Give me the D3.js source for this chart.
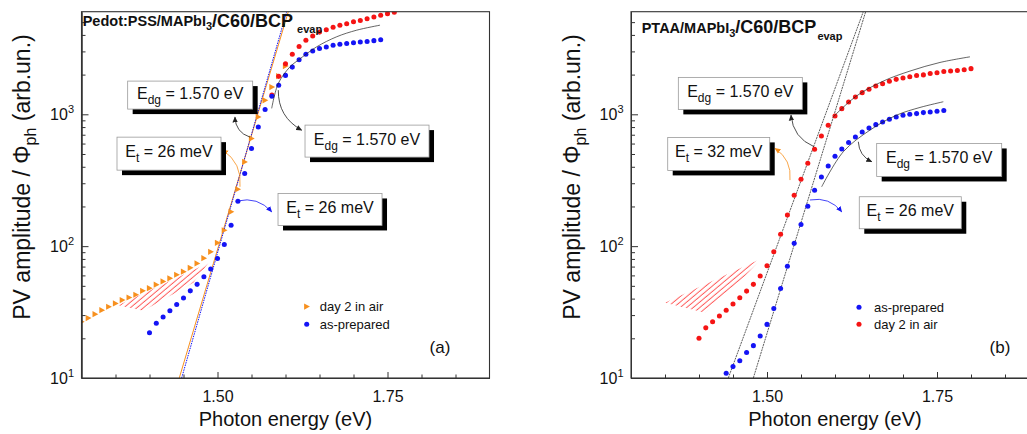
<!DOCTYPE html>
<html>
<head>
<meta charset="utf-8">
<script src="https://cdn.jsdelivr.net/npm/d3@7"></script>
<style>
  body { margin: 0; background: #fff; }
  text { font-family: Arial, "Liberation Sans", sans-serif; }
</style>
</head>
<body>
<svg id="chart" width="1027" height="434"></svg>
<script>
// ---- panel (a): Pedot:PSS/MAPbI3/C60/BCP ----
const dayAirTriA = [[1.30,26.7],[1.31,28.5],[1.32,30.5],[1.33,32.7],[1.34,34.7],[1.35,36.8],[1.36,39],[1.37,40.8],
  [1.38,42.8],[1.39,45.8],[1.40,48],[1.41,51],[1.42,54],[1.43,57],[1.44,60.7],[1.45,64],[1.46,68.5],[1.47,74],
  [1.48,81],[1.49,90.6],[1.50,106],[1.51,132],[1.52,182],[1.53,270],[1.54,435],[1.55,655],[1.56,955],[1.57,1276],
  [1.58,1610],[1.59,1950],[1.60,2323]];
const dayAirDotA = [[1.58,1400],[1.59,1940],[1.60,2420],[1.61,2850],[1.62,3270],[1.63,3640],[1.64,3920],[1.65,4200],
  [1.66,4380],[1.67,4580],[1.68,4740],[1.69,4860],[1.70,5040],[1.71,5150],[1.72,5310],[1.73,5470],[1.74,5630],
  [1.75,5800],[1.76,5950]];
const asPrepA = [[1.40,22],[1.41,26],[1.42,29],[1.43,32.4],[1.44,36.1],[1.45,40.5],[1.46,45.8],[1.47,51.3],[1.48,58.6],
  [1.49,67],[1.50,80.7],[1.51,103],[1.52,144],[1.53,219],[1.54,356],[1.55,550],[1.56,802],[1.57,1086],[1.58,1370],
  [1.59,1660],[1.60,1973],[1.61,2280],[1.62,2594],[1.63,2850],[1.64,3020],[1.65,3150],[1.66,3240],[1.67,3335],
  [1.68,3400],[1.69,3440],[1.70,3490],[1.71,3530],[1.72,3570],[1.73,3620],[1.74,3680]];
const fitOrangeA = [[1.4438,10],[1.6041,6000]];
const fitBlueA = [[1.4473,10],[1.6017,6000]];
const fitCurveA = [[1.5797,1109],[1.5894,1714],[1.6066,2291],[1.6188,2576],[1.6459,3250],[1.6753,3873],
  [1.7047,4345],[1.739,4742]];
const hatchA = [[1.3541,35.7],[1.4865,74.6],[1.4644,52.7],[1.3909,32.4]];

// ---- panel (b): PTAA/MAPbI3/C60/BCP ----
const dayAirB = [[1.40,20],[1.41,24],[1.42,26.7],[1.43,29.5],[1.44,32.7],[1.45,36.4],[1.46,40.6],[1.47,45.6],
  [1.48,51.3],[1.49,59.3],[1.50,71],[1.51,90.6],[1.52,123],[1.53,172],[1.54,243],[1.55,322],[1.56,426],[1.57,543],
  [1.58,685],[1.59,826],[1.60,970],[1.61,1104],[1.62,1240],[1.63,1352],[1.64,1460],[1.65,1547],[1.66,1638],
  [1.67,1706],[1.68,1778],[1.69,1841],[1.70,1884],[1.71,1925],[1.72,1970],[1.73,1990],[1.74,2040],[1.75,2065],
  [1.76,2110],[1.77,2130],[1.78,2150],[1.79,2180],[1.80,2220]];
const asPrepB = [[1.44,10.85],[1.45,12.2],[1.46,13.5],[1.47,15.6],[1.48,17.6],[1.49,20.8],[1.50,25.5],[1.51,33.7],
  [1.52,47.8],[1.53,70.5],[1.54,105],[1.55,146],[1.56,201],[1.57,265],[1.58,335],[1.59,406],[1.60,481],[1.61,546],
  [1.62,611],[1.63,673],[1.64,735],[1.65,788],[1.66,835],[1.67,874],[1.68,917],[1.69,955],[1.70,983],[1.71,1000],
  [1.72,1012],[1.73,1030],[1.74,1042],[1.75,1054],[1.76,1067]];
const fitLineRedB = [[1.4431,10],[1.6416,6000]];
const fitLineBlueB = [[1.4799,10],[1.6451,6000]];
const fitCurveRedB = [[1.5966,948],[1.6319,1380],[1.671,1786],[1.7103,2128],[1.7544,2473],[1.7985,2729]];
const fitCurveBlueB = [[1.5804,282],[1.6122,520],[1.6515,759],[1.6907,986],[1.725,1127],[1.7593,1245]];
const hatchB = [[1.35,37.2],[1.4922,80.7],[1.4676,59.3],[1.4088,31.3]];

// ---- axes ----
const xDomain = [1.3, 1.9];
const yDomain = [10, 6000];
const xMajor = [1.50, 1.75];
const xMinor = [1.35, 1.40, 1.45, 1.55, 1.60, 1.65, 1.70, 1.80, 1.85];
const yMajor = [10, 100, 1000];
const yMinor = [20, 30, 40, 50, 60, 70, 80, 90, 200, 300, 400, 500, 600, 700, 800, 900, 2000, 3000, 4000, 5000];

const ORANGE = "#f7901e", BLUE = "#1414f5", RED = "#f51414", INK = "#222";

const svg = d3.select("#chart");
const W = 408, H = 366.3, TOP = 11.7;

const defs = svg.append("defs");
defs.append("pattern")
  .attr("id", "hatch")
  .attr("patternUnits", "userSpaceOnUse")
  .attr("width", 8).attr("height", 4.2)
  .attr("patternTransform", "rotate(-40)")
  .append("line")
  .attr("x1", 0).attr("x2", 8).attr("y1", 2).attr("y2", 2)
  .attr("stroke", "#ff4a4a").attr("stroke-width", 0.9);

[INK, ORANGE, BLUE].forEach((c, i) => {
  defs.append("marker")
    .attr("id", "arr" + i)
    .attr("viewBox", "0 0 10 10")
    .attr("refX", 9).attr("refY", 5)
    .attr("markerWidth", 6).attr("markerHeight", 6)
    .attr("markerUnits", "userSpaceOnUse")
    .attr("orient", "auto")
    .append("path").attr("d", "M0,0.5 L10,5 L0,9.5 Z").attr("fill", c);
});
const arrowId = { [INK]: "arr0", [ORANGE]: "arr1", [BLUE]: "arr2" };

const triPath = "M-2.6,-3.1 L3.2,0 L-2.6,3.1 Z";

function drawPanel(p) {
  const g = svg.append("g").attr("transform", `translate(${p.left},${TOP})`);
  const x = d3.scaleLinear().domain(xDomain).range([0, W]);
  const y = d3.scaleLog().domain(yDomain).range([H, 0]);

  g.append("clipPath").attr("id", "clip" + p.id)
    .append("rect").attr("width", W).attr("height", H);
  const plot = g.append("g").attr("clip-path", `url(#clip${p.id})`);

  const line = d3.line().x(d => x(d[0])).y(d => y(d[1]));
  const smooth = d3.line().x(d => x(d[0])).y(d => y(d[1])).curve(d3.curveCatmullRom);

  // hatch
  plot.append("path").datum(p.hatch)
    .attr("d", line.curve(d3.curveLinearClosed))
    .attr("fill", "url(#hatch)");
  line.curve(d3.curveLinear);

  // fit lines
  p.lines.forEach(l => {
    plot.append("path").datum(l.data).attr("d", line)
      .attr("fill", "none").attr("stroke", l.color).attr("stroke-width", l.width)
      .attr("stroke-dasharray", l.dash || null);
  });

  // points
  p.series.forEach(s => {
    const sel = plot.append("g").selectAll("path").data(s.data).join("path")
      .attr("transform", d => `translate(${x(d[0])},${y(d[1])})`)
      .attr("fill", s.color);
    if (s.shape === "tri") sel.attr("d", triPath);
    else sel.attr("d", d3.symbol(d3.symbolCircle, 20)());
  });

  // fit curves
  p.curves.forEach(c => {
    plot.append("path").datum(c).attr("d", smooth)
      .attr("fill", "none").attr("stroke", INK).attr("stroke-width", 0.7);
  });

  // axes
  const ax = g.append("g").attr("transform", `translate(0,${H})`);
  ax.call(d3.axisBottom(x).tickValues(xMajor).tickSizeInner(-6).tickSizeOuter(0).tickPadding(13)
    .tickFormat(d3.format(".2f")));
  ax.append("g").call(d3.axisBottom(x).tickValues(xMinor).tickSizeInner(-3.5).tickSizeOuter(0).tickFormat(""));
  ax.selectAll("text").attr("font-size", 16).attr("fill", "#111").attr("font-family", "Arial");

  const ay = g.append("g");
  ay.call(d3.axisLeft(y).tickValues(yMajor).tickSizeInner(-7).tickSizeOuter(0).tickFormat(""));
  ay.append("g").call(d3.axisLeft(y).tickValues(yMinor).tickSizeInner(-4).tickSizeOuter(0).tickFormat(""));
  yMajor.forEach(v => {
    const t = g.append("text").attr("x", -7.5).attr("y", y(v) + 6)
      .attr("text-anchor", "end").attr("font-size", 16).attr("fill", "#111");
    t.append("tspan").text("10");
    t.append("tspan").attr("dy", -7).attr("font-size", 11).text(Math.round(Math.log10(v)));
  });
  g.selectAll(".domain").attr("stroke", "#333");
  g.selectAll(".tick line").attr("stroke", "#333");
  g.append("rect").attr("width", W).attr("height", H)
    .attr("fill", "none").attr("stroke", "#333").attr("stroke-width", 1.1);

  // axis titles
  g.append("text").attr("x", W / 2).attr("y", 426 - TOP).attr("text-anchor", "middle")
    .attr("font-size", 20).attr("fill", "#111").text("Photon energy (eV)");
  const yl = g.append("text").attr("transform", `translate(-51.5,${177 - TOP}) rotate(-90)`)
    .attr("text-anchor", "middle").attr("font-size", 23).attr("fill", "#111");
  yl.append("tspan").text("PV amplitude / \u03A6");
  yl.append("tspan").attr("dy", 6).attr("font-size", 16).text("ph");
  yl.append("tspan").attr("dy", -6).text(" (arb.un.)");

  // title
  const tt = g.append("text").attr("x", p.title.x).attr("y", p.title.y)
    .attr("font-weight", "bold").attr("fill", "#111");
  tt.append("tspan").attr("font-size", 14.5).text(p.title.layer);
  tt.append("tspan").attr("font-size", 11).attr("dy", 4).text("3");
  tt.append("tspan").attr("font-size", 18).attr("dy", -4).text("/C60/BCP");
  tt.append("tspan").attr("font-size", 11).attr("dy", 7).attr("dx", p.title.gap).text("evap");

  // panel tag
  g.append("text").attr("x", p.tag.x).attr("y", p.tag.y).attr("text-anchor", "middle")
    .attr("font-size", 17).attr("fill", "#111").text(p.tag.text);

  // legend
  p.legend.forEach((l, i) => {
    const lx = x(p.legendAt[0]), ly = y(p.legendAt[1][i]);
    const m = g.append("path").attr("transform", `translate(${lx},${ly})`).attr("fill", l.color);
    m.attr("d", l.shape === "tri" ? triPath : d3.symbol(d3.symbolCircle, 20)());
    g.append("text").attr("x", lx + p.legendGap).attr("y", ly + 4.5)
      .attr("font-size", 13).attr("fill", "#111").text(l.label);
  });

  // arrows
  p.arrows.forEach(a => {
    const x1 = x(a.from[0]), y1 = y(a.from[1]), x2 = x(a.to[0]), y2 = y(a.to[1]);
    const dx = x2 - x1, dy = y2 - y1;
    const cx = (x1 + x2) / 2 - a.bend * dy, cy = (y1 + y2) / 2 + a.bend * dx;
    g.append("path").attr("d", `M${x1},${y1} Q${cx},${cy} ${x2},${y2}`)
      .attr("fill", "none").attr("stroke", a.color).attr("stroke-width", 0.8)
      .attr("marker-end", `url(#${arrowId[a.color]})`);
  });

  // boxes
  p.boxes.forEach(b => {
    const bx = x(b.at[0]), by = y(b.at[1]);
    g.append("rect").attr("x", bx + 5).attr("y", by + 5).attr("width", b.w).attr("height", b.h).attr("fill", "#000");
    g.append("rect").attr("x", bx).attr("y", by).attr("width", b.w).attr("height", b.h)
      .attr("fill", "#fff").attr("stroke", "#9a9a9a").attr("stroke-width", 0.8);
    const t = g.append("text").attr("x", bx + b.w / 2).attr("y", by + b.h / 2 + 3.5)
      .attr("text-anchor", "middle").attr("font-size", 16).attr("fill", "#111");
    t.append("tspan").text("E");
    t.append("tspan").attr("dy", 5).attr("font-size", 12).text(b.sub);
    t.append("tspan").attr("dy", -5).text(" = " + b.value);
  });
}

drawPanel({
  id: "a", left: 81.5,
  hatch: hatchA,
  lines: [
    { data: fitOrangeA, color: ORANGE, width: 1 },
    { data: fitBlueA, color: BLUE, width: 1, dash: "1.5,1" }
  ],
  series: [
    { data: dayAirTriA, color: ORANGE, shape: "tri" },
    { data: dayAirDotA, color: RED, shape: "dot" },
    { data: asPrepA, color: BLUE, shape: "dot" }
  ],
  curves: [fitCurveA],
  title: { x: 1.2, y: 14.8, layer: "Pedot:PSS/MAPbI", gap: 4 },
  tag: { x: 358.5, y: 341.3, text: "(a)" },
  legend: [
    { shape: "tri", color: ORANGE, label: "day 2 in air" },
    { shape: "dot", color: BLUE, label: "as-prepared" }
  ],
  legendAt: [1.6312, [34.8, 25.6]], legendGap: 13,
  arrows: [
    { from: [1.5478, 671], to: [1.5257, 953], bend: -0.35, color: INK },
    { from: [1.5894, 1525], to: [1.6238, 759], bend: 0.3, color: INK },
    { from: [1.5331, 282], to: [1.5076, 536], bend: 0.3, color: ORANGE },
    { from: [1.5291, 220], to: [1.5797, 182], bend: -0.3, color: BLUE }
  ],
  boxes: [
    { at: [1.3679, 1786], w: 125, h: 28, sub: "dg", value: "1.570 eV" },
    { at: [1.3522, 671], w: 104, h: 33, sub: "t", value: "26 meV" },
    { at: [1.6287, 828], w: 124, h: 32, sub: "dg", value: "1.570 eV" },
    { at: [1.589, 251], w: 104, h: 32, sub: "t", value: "26 meV" }
  ]
});

drawPanel({
  id: "b", left: 631,
  hatch: hatchB,
  lines: [
    { data: fitLineRedB, color: "#333", width: 0.8, dash: "2,0.8" },
    { data: fitLineBlueB, color: "#333", width: 0.8, dash: "2,0.8" }
  ],
  series: [
    { data: dayAirB, color: RED, shape: "dot" },
    { data: asPrepB, color: BLUE, shape: "dot" }
  ],
  curves: [fitCurveRedB, fitCurveBlueB],
  title: { x: 10.7, y: 21.3, layer: "PTAA/MAPbI", gap: 1 },
  tag: { x: 369, y: 341.3, text: "(b)" },
  legend: [
    { shape: "dot", color: BLUE, label: "as-prepared" },
    { shape: "dot", color: RED, label: " day 2 in air" }
  ],
  legendAt: [1.6353, [34.4, 25.6]], legendGap: 15,
  arrows: [
    { from: [1.5691, 568], to: [1.5353, 986], bend: -0.3, color: INK },
    { from: [1.5338, 317], to: [1.5118, 551], bend: 0.3, color: ORANGE },
    { from: [1.6343, 619], to: [1.654, 437], bend: 0.3, color: INK },
    { from: [1.5632, 224], to: [1.6099, 182], bend: -0.3, color: BLUE }
  ],
  boxes: [
    { at: [1.3696, 1905], w: 124, h: 32, sub: "dg", value: "1.570 eV" },
    { at: [1.354, 668], w: 102, h: 33, sub: "t", value: "32 meV" },
    { at: [1.6613, 601], w: 125, h: 33, sub: "dg", value: "1.570 eV" },
    { at: [1.6357, 237], w: 102, h: 32, sub: "t", value: "26 meV" }
  ]
});
</script>
</body>
</html>
